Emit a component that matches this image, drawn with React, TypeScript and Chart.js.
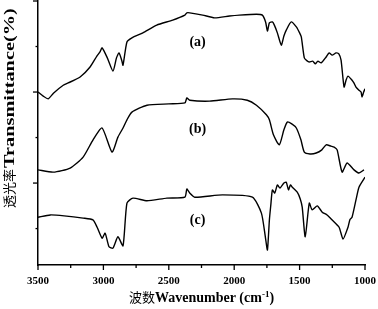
import React, { useEffect, useRef } from 'react';
import { Chart, registerables } from 'chart.js';

Chart.register(...registerables);

// ---- Data (transmittance in arbitrary offset units) ----
const wavenumbersA = [3500, 3460, 3422, 3380, 3307, 3269, 3178, 3102, 3050, 3026, 3010, 2970, 2927, 2900, 2881, 2860, 2850, 2820, 2782, 2698, 2592, 2470, 2377, 2362, 2340, 2241, 2150, 2036, 1960, 1830, 1785, 1760, 1746, 1731, 1708, 1693, 1670, 1640, 1620, 1602, 1564, 1525, 1500, 1487, 1464, 1445, 1426, 1400, 1380, 1360, 1335, 1297, 1274, 1251, 1221, 1200, 1183, 1160, 1145, 1130, 1099, 1085, 1069, 1046, 1030, 1023, 1010, 1000];
const transmittanceA = [38.0, 37.1, 36.5, 37.8, 39.5, 40.0, 41.3, 43.5, 45.9, 46.8, 47.7, 45.5, 42.6, 45.5, 46.6, 45.0, 43.9, 49.0, 49.9, 51.0, 52.7, 53.8, 54.9, 55.4, 55.4, 54.9, 54.3, 54.7, 54.9, 55.1, 54.9, 53.4, 51.4, 53.2, 53.4, 52.7, 51.0, 48.3, 50.3, 51.6, 53.4, 52.3, 51.0, 50.1, 45.5, 44.9, 44.6, 44.8, 44.2, 44.8, 44.4, 45.7, 46.6, 46.1, 46.6, 46.4, 45.0, 39.1, 40.6, 41.5, 40.6, 40.0, 39.1, 38.4, 38.0, 36.9, 38.0, 38.7];

const wavenumbersB = [3500, 3383, 3254, 3155, 3079, 3010, 2934, 2889, 2850, 2820, 2782, 2667, 2500, 2377, 2362, 2340, 2188, 2013, 1900, 1830, 1754, 1731, 1700, 1655, 1620, 1594, 1560, 1525, 1490, 1464, 1420, 1373, 1330, 1297, 1260, 1236, 1213, 1175, 1137, 1084, 1046, 1008];
const transmittanceB = [20.9, 20.4, 21.3, 23.7, 27.5, 30.1, 24.8, 28.1, 30.1, 31.9, 33.6, 35.1, 35.4, 35.6, 36.7, 36.2, 36.0, 36.5, 36.2, 35.1, 33.0, 31.9, 28.6, 26.4, 29.7, 31.4, 31.0, 30.1, 27.5, 24.8, 24.4, 24.6, 25.3, 26.4, 26.1, 25.9, 25.3, 20.4, 22.4, 20.9, 20.2, 20.9];

const wavenumbersC = [3500, 3406, 3300, 3155, 3080, 3048, 3010, 2987, 2957, 2927, 2889, 2850, 2820, 2774, 2667, 2515, 2377, 2362, 2340, 2302, 2089, 1861, 1792, 1762, 1746, 1731, 1720, 1708, 1690, 1670, 1650, 1620, 1602, 1585, 1570, 1556, 1518, 1495, 1480, 1457, 1426, 1404, 1365, 1327, 1290, 1251, 1198, 1168, 1130, 1115, 1099, 1069, 1046, 1000];
const transmittanceC = [10.5, 11.0, 10.8, 10.3, 9.9, 8.3, 5.9, 7.0, 4.0, 3.7, 6.2, 4.2, 13.6, 14.7, 14.1, 14.7, 14.9, 16.7, 15.8, 14.9, 15.4, 14.9, 11.4, 6.2, 3.3, 9.9, 13.2, 16.5, 15.8, 17.6, 16.9, 18.0, 18.2, 16.5, 17.6, 17.1, 16.0, 14.5, 12.7, 6.2, 13.6, 12.1, 13.0, 11.6, 11.0, 9.9, 8.3, 5.7, 8.3, 10.0, 10.5, 14.3, 17.1, 19.3];

const xTickValues = [3500, 3250, 3000, 2750, 2500, 2250, 2000, 1750, 1500, 1250, 1000];
const xMajorTicks = [3500, 3000, 2500, 2000, 1500, 1000];
const yTickValues = [58, 48, 38, 28, 18, 8];
const yMajorTicks = [58, 38, 18];

const curveLabels = ['(a)', '(b)', '(c)'];
const curveLabelWavenumber = 2280;
const curveLabelTransmittance = [49.0, 29.9, 9.7];

const xTitleCjk = '波数';
const xTitleLatin = 'Wavenumber (cm';
const xTitleSup = '-1';
const xTitleEnd = ')';
const yTitleCjk = '透光率';
const yTitleLatin = 'Transmittance(%)';

const SERIF = '"Liberation Serif", "Times New Roman", serif';
const CJK = '"Noto Sans CJK SC", "Noto Sans CJK JP", sans-serif';

const toPoints = (xs: number[], ys: number[]) => xs.map((x, i) => ({ x, y: ys[i] }));

const decorPlugin = {
  id: 'decor',
  afterDraw(chart: any) {
    const { ctx, chartArea, scales } = chart;
    const xs = scales.x;
    const ys = scales.y;
    ctx.save();
    ctx.strokeStyle = '#000';
    ctx.lineWidth = 1.3;
    // x tick marks (outward, major longer)
    xTickValues.forEach((v) => {
      const px = xs.getPixelForValue(v);
      const len = xMajorTicks.includes(v) ? 5 : 3;
      ctx.beginPath();
      ctx.moveTo(px, chartArea.bottom);
      ctx.lineTo(px, chartArea.bottom + len);
      ctx.stroke();
    });
    // y tick marks
    yTickValues.forEach((v) => {
      const py = ys.getPixelForValue(v);
      const len = yMajorTicks.includes(v) ? 5 : 2.5;
      ctx.beginPath();
      ctx.moveTo(chartArea.left, py);
      ctx.lineTo(chartArea.left - len, py);
      ctx.stroke();
    });

    // curve labels
    ctx.fillStyle = '#000';
    ctx.font = `bold 14px ${SERIF}`;
    ctx.textAlign = 'center';
    ctx.textBaseline = 'middle';
    curveLabels.forEach((t, i) => {
      ctx.fillText(t, xs.getPixelForValue(curveLabelWavenumber), ys.getPixelForValue(curveLabelTransmittance[i]));
    });

    // x axis title
    ctx.textAlign = 'left';
    ctx.textBaseline = 'alphabetic';
    const parts = [
      { t: xTitleCjk, f: `13px ${CJK}`, dy: 0 },
      { t: xTitleLatin, f: `bold 14px ${SERIF}`, dy: 0 },
      { t: xTitleSup, f: `bold 9px ${SERIF}`, dy: -5 },
      { t: xTitleEnd, f: `bold 14px ${SERIF}`, dy: 0 },
    ];
    let total = 0;
    const widths = parts.map((p) => {
      ctx.font = p.f;
      const w = ctx.measureText(p.t).width;
      total += w;
      return w;
    });
    let cx = (chartArea.left + chartArea.right) / 2 - total / 2;
    const baseY = 302;
    parts.forEach((p, i) => {
      ctx.font = p.f;
      ctx.fillText(p.t, cx, baseY + p.dy);
      cx += widths[i];
    });

    // y axis title (rotated; latin part stretched along its length as in the reference)
    ctx.save();
    ctx.translate(13.5, 208);
    ctx.rotate(-Math.PI / 2);
    ctx.font = `13px ${CJK}`;
    ctx.fillText(yTitleCjk, 0, 0);
    const w1 = ctx.measureText(yTitleCjk).width;
    ctx.translate(w1 + 1, 0);
    ctx.scale(1.45, 1);
    ctx.font = `bold 14px ${SERIF}`;
    ctx.fillText(yTitleLatin, 0, 0);
    ctx.restore();

    ctx.restore();
  },
};

export default function App() {
  const canvasRef = useRef<HTMLCanvasElement>(null);

  useEffect(() => {
    const canvas = canvasRef.current;
    if (!canvas) return;
    const lineStyle = {
      borderColor: '#000',
      borderWidth: 1.4,
      pointRadius: 0,
      tension: 0.2,
      fill: false,
    };
    const chart = new Chart(canvas, {
      type: 'line',
      data: {
        datasets: [
          { label: '(a)', data: toPoints(wavenumbersA, transmittanceA), ...lineStyle },
          { label: '(b)', data: toPoints(wavenumbersB, transmittanceB), ...lineStyle },
          { label: '(c)', data: toPoints(wavenumbersC, transmittanceC), ...lineStyle },
        ],
      },
      options: {
        animation: false,
        responsive: true,
        maintainAspectRatio: false,
        events: [],
        layout: { padding: { top: 1, right: 12, left: 0, bottom: 0 } },
        plugins: {
          legend: { display: false },
          tooltip: { enabled: false },
        },
        scales: {
          x: {
            type: 'linear',
            reverse: true,
            min: 1000,
            max: 3500,
            afterBuildTicks: (s: any) => {
              s.ticks = xTickValues.map((v) => ({ value: v }));
            },
            afterFit: (s: any) => {
              s.height = 44;
            },
            ticks: {
              autoSkip: false,
              maxRotation: 0,
              minRotation: 0,
              padding: 2,
              color: '#000',
              font: { family: SERIF, size: 11, weight: 'bold' },
              callback: (v: any) => (xMajorTicks.includes(Number(v)) ? String(v) : ''),
            },
            grid: { display: false },
            border: { display: true, color: '#000', width: 1.5 },
          },
          y: {
            type: 'linear',
            min: 0,
            max: 58,
            afterBuildTicks: (s: any) => {
              s.ticks = yTickValues.map((v) => ({ value: v }));
            },
            afterFit: (s: any) => {
              s.width = 38;
            },
            ticks: { display: false },
            grid: { display: false },
            border: { display: true, color: '#000', width: 1.5 },
          },
        },
      },
      plugins: [decorPlugin],
    } as any);
    return () => chart.destroy();
  }, []);

  return (
    <div style={{ position: 'absolute', left: 0, top: 0, width: 378, height: 309 }}>
      <canvas ref={canvasRef} />
    </div>
  );
}
